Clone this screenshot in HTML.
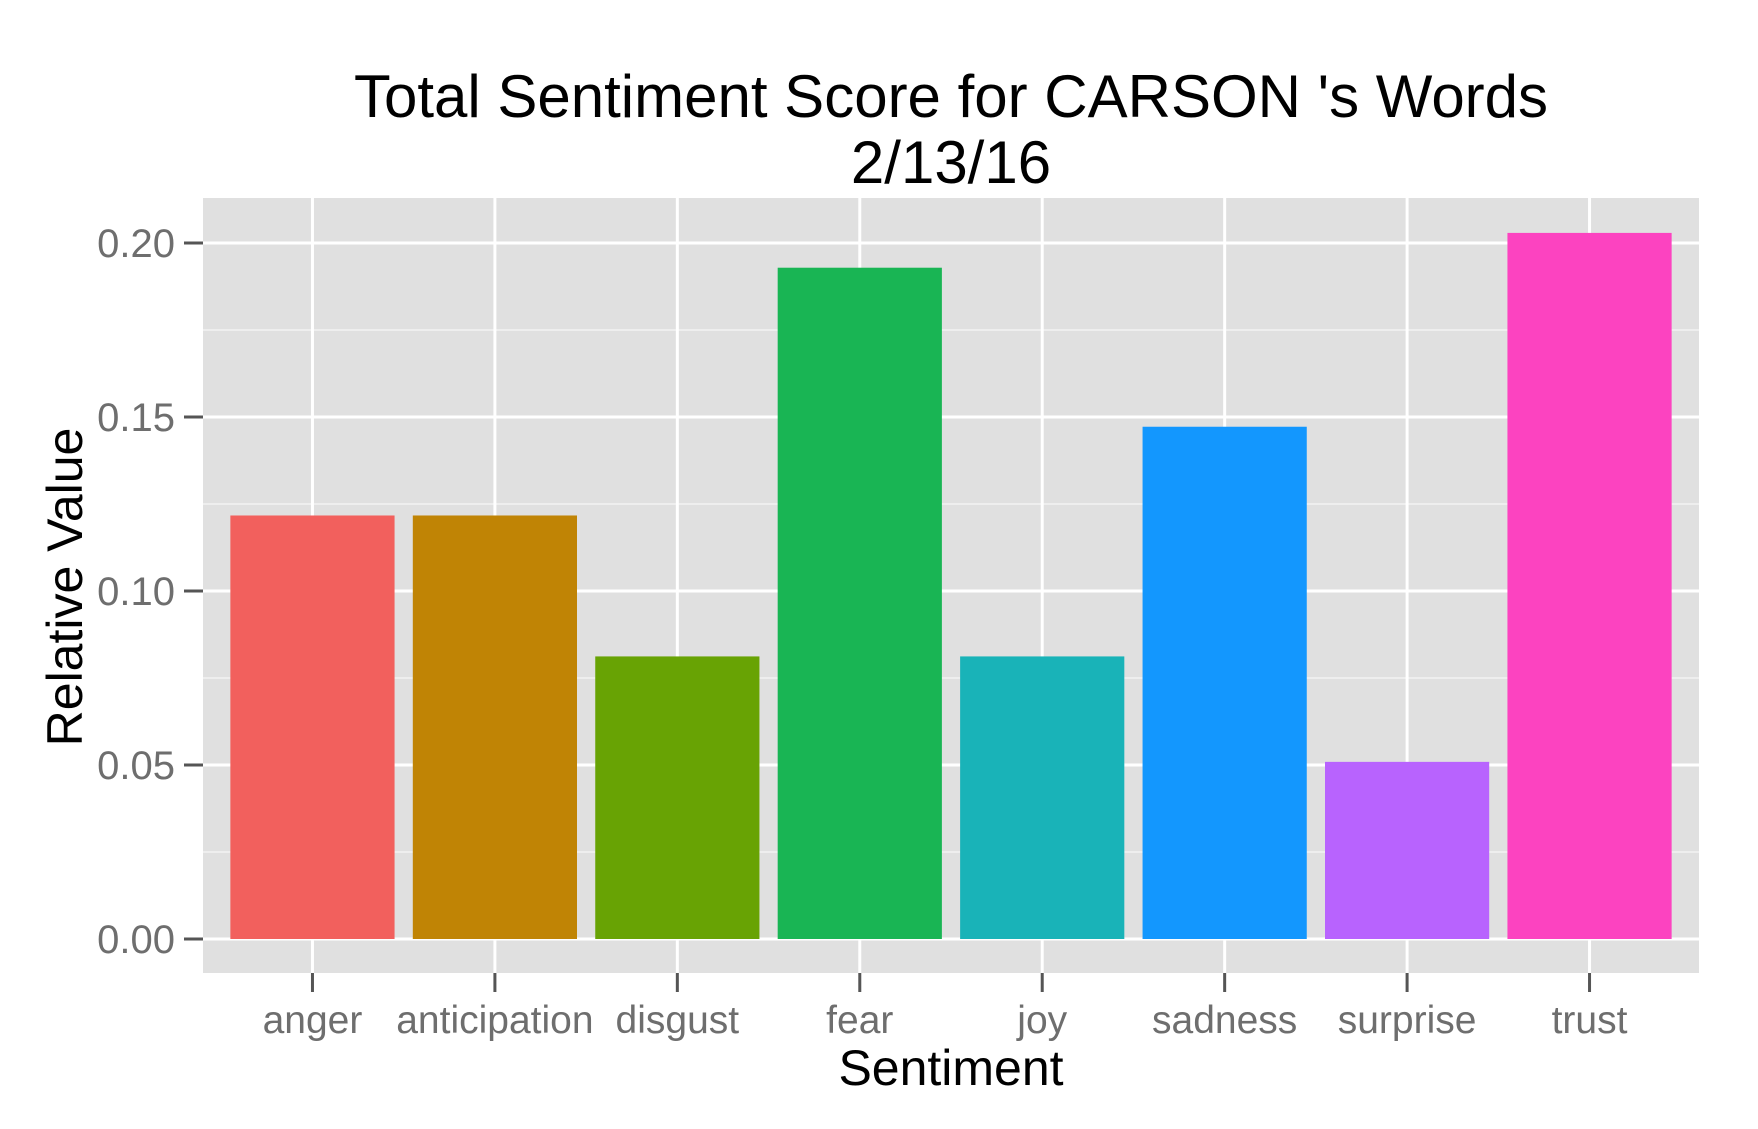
<!DOCTYPE html>
<html><head><meta charset="utf-8">
<style>html,body{margin:0;padding:0;background:#fff;}svg{display:block;font-family:"Liberation Sans",Arial,sans-serif;}</style>
</head><body>
<svg id="chart" width="1758" height="1129" viewBox="0 0 1758 1129" xmlns="http://www.w3.org/2000/svg">
<rect x="0" y="0" width="1758" height="1129" fill="#fff"/>
<text x="951" y="117" text-anchor="middle" font-size="60" fill="#000">Total Sentiment Score for CARSON 's Words</text>
<text x="951" y="183" text-anchor="middle" font-size="60" fill="#000">2/13/16</text>
<rect x="203" y="198" width="1496" height="775" fill="#e0e0e0"/>
<g id="grid"></g>
<g id="bars"></g>
<g id="axes"></g>
<text x="951" y="1085" text-anchor="middle" font-size="50" fill="#000">Sentiment</text>
<text transform="translate(82,587) rotate(-90)" text-anchor="middle" font-size="50" fill="#000">Relative Value</text>
</svg>
<script>
const categories = ["anger","anticipation","disgust","fear","joy","sadness","surprise","trust"];
const values = [0.1217,0.1217,0.0812,0.1929,0.0812,0.1472,0.0509,0.2029];
const barColors = ["#f2605d","#c08405","#68a304","#19b554","#19b3b8","#1397fe","#b863fe","#fc43c0"];
const yTicks = [0,0.05,0.10,0.15,0.20];
const yTickLabels = ["0.00","0.05","0.10","0.15","0.20"];

const NS="http://www.w3.org/2000/svg";
const panel={left:203,right:1699,top:198,bottom:973};
const y0=939, yScale=3480;
function y(v){return y0-v*yScale;}
const step=(panel.right-panel.left)/(categories.length+0.2);
function x(i){return panel.left+step*(0.6+i);}
function el(tag,attrs,parent){const e=document.createElementNS(NS,tag);for(const k in attrs)e.setAttribute(k,attrs[k]);parent.appendChild(e);return e;}
const grid=document.getElementById('grid'),bars=document.getElementById('bars'),axes=document.getElementById('axes');
for(let i=0;i<yTicks.length-1;i++){
  const v=(yTicks[i]+yTicks[i+1])/2;
  const l=el('line',{x1:panel.left,x2:panel.right,y1:y(v),y2:y(v),stroke:'#f2f2f2','stroke-width':1.5},grid);
  
  
}
yTicks.forEach((v,i)=>{
  const l=el('line',{x1:panel.left,x2:panel.right,y1:y(v),y2:y(v),stroke:'#fff','stroke-width':3},grid);
  
  
  const t=el('line',{x1:184,x2:203,y1:y(v),y2:y(v),stroke:'#555','stroke-width':3},axes);
  
  
  const tx=el('text',{x:175,y:y(v)+14,'text-anchor':'end','font-size':40,fill:'#6e6e6e'},axes);
  tx.textContent=yTickLabels[i];
  
  
});
categories.forEach((c,i)=>{
  const cx=x(i);
  const g=el('line',{x1:cx,x2:cx,y1:panel.top,y2:panel.bottom,stroke:'#fff','stroke-width':3},grid);
  
  
  const w=step*0.9;
  const b=el('rect',{x:cx-w/2,y:y(values[i]),width:w,height:y(0)-y(values[i]),fill:barColors[i]},bars);
  
  
  const t=el('line',{x1:cx,x2:cx,y1:973,y2:992,stroke:'#555','stroke-width':3},axes);
  
  
  const tx=el('text',{x:cx,y:1033,'text-anchor':'middle','font-size':39,fill:'#6e6e6e'},axes);
  tx.textContent=c;
  
  
});
</script>
</body></html>
